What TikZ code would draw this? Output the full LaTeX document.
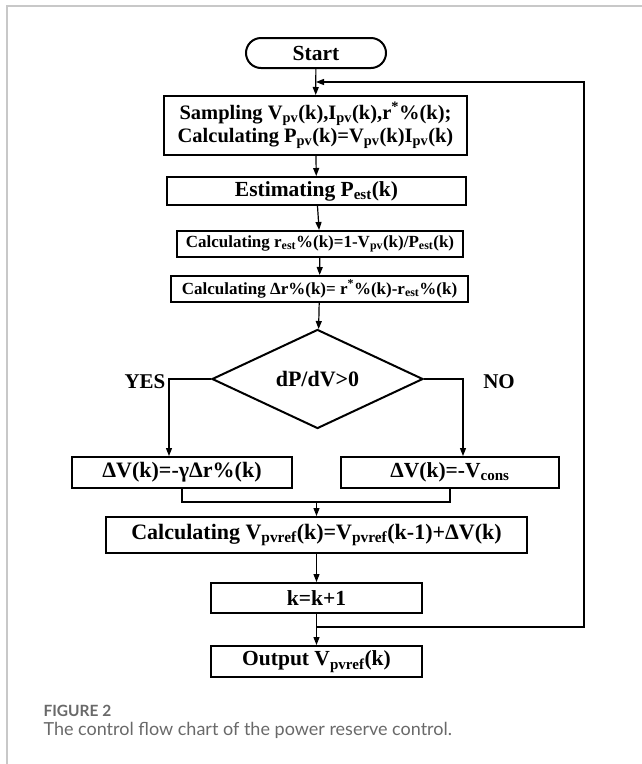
\documentclass[tikz,border=0pt]{standalone}
\usepackage{fontspec}
\setmainfont{Liberation Serif}
\newfontfamily\capfont{Lato}
\usetikzlibrary{arrows.meta,shapes.geometric}

\newcommand{\lo}[1]{\textsubscript{#1}}
\newcommand{\hi}[1]{\textsuperscript{#1}}
\definecolor{framegray}{RGB}{200,200,200}
\definecolor{capgray}{RGB}{105,105,105}

\tikzset{
  box/.style={draw, line width=2pt, inner sep=0pt, align=center,
    font=\bfseries\fontsize{21.5}{25}\selectfont},
  twobox/.style={box, font=\bfseries\fontsize{20.5}{23}\selectfont},
  smallbox/.style={box, font=\bfseries\fontsize{17}{20}\selectfont},
  bigbox/.style={box, font=\bfseries\fontsize{22}{26}\selectfont},
  term/.style={box, rounded corners=15pt},
  choice/.style={draw, diamond, line width=2pt, inner sep=0pt,
    font=\bfseries\fontsize{22}{26}\selectfont},
  side/.style={font=\bfseries\fontsize{21}{25}\selectfont},
  flow/.style={line width=1.2pt, -{Triangle[length=8pt,width=6pt]}},
  link/.style={line width=1.2pt},
}

\begin{document}
\begin{tikzpicture}[x=1pt,y=-1pt]
  \useasboundingbox (0,0) rectangle (642,764);

  % page frame
  \draw[framegray, line width=1.5pt] (642,6) -- (7,6) -- (7,764);

  % steps
  \node[term, minimum width=140pt, minimum height=30pt] (start) at (316,53) {Start};
  \node[twobox, minimum width=303pt, minimum height=59pt] (samp) at (315.5,125.5)
    {Sampling V\lo{pv}(k),I\lo{pv}(k),r\hi{*}\%(k);\\Calculating P\lo{pv}(k)=V\lo{pv}(k)I\lo{pv}(k)};
  \node[box, minimum width=299pt, minimum height=28pt] (est) at (316.5,191) {Estimating P\lo{est}(k)};
  \node[smallbox, minimum width=286pt, minimum height=26pt] (rest) at (320,244)
    {Calculating r\lo{est}\%(k)=1-V\lo{pv}(k)/P\lo{est}(k)};
  \node[smallbox, minimum width=297pt, minimum height=26pt] (dr) at (319.5,289)
    {Calculating Δr\%(k)= r\hi{*}\%(k)-r\lo{est}\%(k)};

  % decision
  \node[choice, minimum width=211pt, minimum height=80pt] (dec) at (317.5,379) {dP/dV>0};
  \node[side] (yes) at (145,382) {YES};
  \node[side] (no) at (499,382) {NO};

  % branches
  \node[bigbox, minimum width=220pt, minimum height=31pt] (dvl) at (182,472.5) {ΔV(k)=-γΔr\%(k)};
  \node[box, minimum width=218pt, minimum height=31pt] (dvr) at (450,472.5) {ΔV(k)=-V\lo{cons}};
  \node[bigbox, minimum width=421pt, minimum height=36pt] (vref) at (316.5,535)
    {Calculating V\lo{pvref}(k)=V\lo{pvref}(k-1)+ΔV(k)};
  \node[box, minimum width=211pt, minimum height=30pt] (kk) at (316.5,598) {k=k+1};
  \node[box, minimum width=211pt, minimum height=31pt] (out) at (316.5,661.5) {Output V\lo{pvref}(k)};

  % helper points
  \coordinate (lft) at (169,0);
  \coordinate (rgt) at (463,0);
  \coordinate (join) at (316.5,502);
  \coordinate (back) at (316.5,627);
  \coordinate (rim) at (584,82);
  \coordinate (merge) at (316,82);

  % connectors
  \draw[flow] (start) -- (samp);
  \draw[flow] (samp) -- (est);
  \draw[flow] (est) -- (rest);
  \draw[flow] (rest) -- (dr);
  \draw[flow] (dr) -- (dec);
  \draw[flow] (dec.west) -| (lft |- dvl.north);
  \draw[flow] (dec.east) -| (rgt |- dvr.north);
  \draw[link] (dvl.south) |- (join) -| (dvr.south);
  \draw[flow] (join) -- (vref);
  \draw[flow] (vref) -- (kk);
  \draw[flow] (kk) -- (out);
  \draw[flow] (back) -| (rim) -- (merge);

  % caption
  \node[anchor=base west, capgray, font=\capfont\bfseries\fontsize{15.5}{18}\selectfont] (fig) at (40,716) {FIGURE 2};
  \node[anchor=base west, capgray, font=\capfont\fontsize{18}{21}\selectfont] (cap) at (40,735)
    {The control flow chart of the power reserve control.};
\end{tikzpicture}
\end{document}
